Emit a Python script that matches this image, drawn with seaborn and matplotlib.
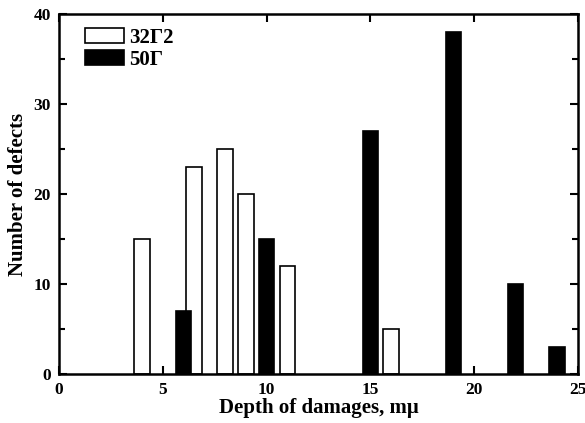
import pandas as pd
import seaborn as sns
import matplotlib.pyplot as plt
from matplotlib.patches import Patch
from matplotlib.ticker import MultipleLocator

# Data
depth_32g2 = [4, 6.5, 8, 9, 11, 16]
count_32g2 = [15, 23, 25, 20, 12, 5]
depth_50g = [6, 10, 15, 19, 22, 24]
count_50g = [7, 15, 27, 38, 10, 3]
labels = ['32Г2', '50Г']

sns.set_style('ticks', {'axes.edgecolor': 'black', 'text.color': 'black',
                        'xtick.color': 'black', 'ytick.color': 'black',
                        'axes.labelcolor': 'black'})
plt.rcParams['font.family'] = ['Liberation Serif', 'DejaVu Serif']
plt.rcParams['font.weight'] = 'bold'

df_a = pd.DataFrame({'depth': depth_32g2, 'count': count_32g2})
df_b = pd.DataFrame({'depth': depth_50g, 'count': count_50g})

fig = plt.figure(figsize=(5.85, 4.23), dpi=100)
ax = fig.add_axes([0.101, 0.116, 0.887, 0.851])

# native_scale width is relative to the smallest spacing between positions
sns.barplot(data=df_a, x='depth', y='count', native_scale=True, width=0.75,
            color='white', edgecolor='black', linewidth=1.2, saturation=1,
            errorbar=None, ax=ax)
sns.barplot(data=df_b, x='depth', y='count', native_scale=True, width=0.375,
            color='black', edgecolor='black', linewidth=1.2, saturation=1,
            errorbar=None, ax=ax)

ax.set_xlim(0, 25)
ax.set_ylim(0, 40)
ax.xaxis.set_major_locator(MultipleLocator(5))
ax.yaxis.set_major_locator(MultipleLocator(10))
ax.yaxis.set_minor_locator(MultipleLocator(5))
ax.tick_params(which='both', direction='in', top=True, right=True,
               width=1.5, labelsize=12.5, pad=6)
ax.tick_params(which='major', length=6)
ax.tick_params(which='minor', length=4)
for lab in ax.get_xticklabels() + ax.get_yticklabels():
    lab.set_fontweight('bold')
for s in ax.spines.values():
    s.set_linewidth(1.8)

ax.set_xlabel('Depth of damages, mμ', fontsize=15, fontweight='bold', labelpad=0)
ax.set_ylabel('Number of defects', fontsize=15, fontweight='bold', labelpad=4)

handles = [Patch(facecolor='white', edgecolor='black', linewidth=1.2),
           Patch(facecolor='black', edgecolor='black', linewidth=1.2)]
ax.legend(handles, labels, loc='upper left', frameon=False,
          handlelength=1.85, handleheight=0.72, handletextpad=0.25,
          labelspacing=0.1, borderaxespad=0, borderpad=0,
          bbox_to_anchor=(0.05, 0.962),
          prop={'weight': 'bold', 'size': 15})

fig.savefig('out.png', dpi=100)
